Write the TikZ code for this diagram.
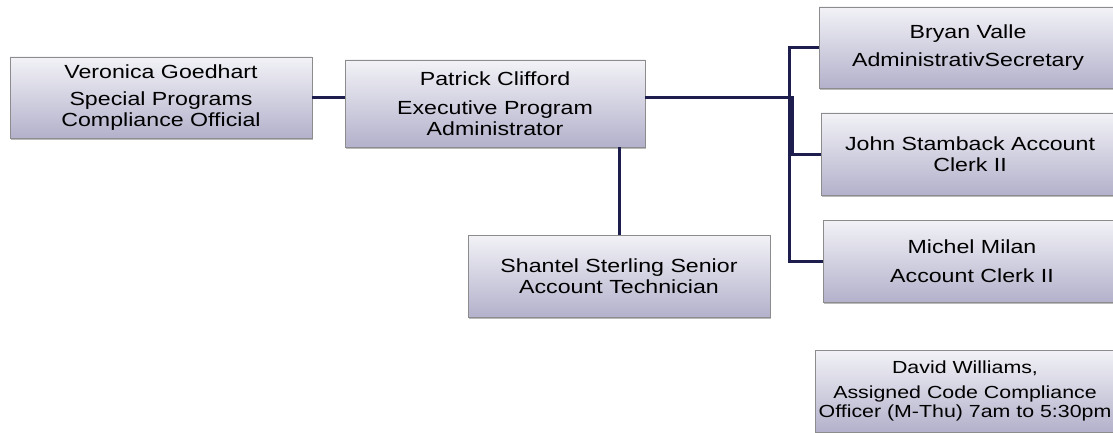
\documentclass[tikz,border=0pt]{standalone}
\usepackage{fontspec}
\setmainfont{Liberation Sans}[FakeStretch=1.22]
\usetikzlibrary{shadows}
\definecolor{boxtop}{HTML}{F2F2F7}
\definecolor{boxbot}{HTML}{B3B1CB}
\definecolor{boxline}{HTML}{8C8C8C}
\definecolor{conn}{HTML}{1E1E4E}
\tikzset{
  person/.style={rectangle, draw=boxline, line width=0.8pt, top color=boxtop, bottom color=boxbot,
    minimum width=#1, minimum height=82pt, inner sep=0pt, align=center,
    font=\fontsize{19pt}{21pt}\selectfont,
    drop shadow={shadow xshift=1.2pt, shadow yshift=-1.6pt, fill=black!45, opacity=0.6}},
  person/.default=300pt,
  link/.style={draw=conn, line width=3pt}
}
\begin{document}
\begin{tikzpicture}[x=1pt,y=-1pt]
\useasboundingbox (0,0) rectangle (1113,433);
\clip (0,0) rectangle (1113,433);
\node[person=302pt, minimum height=81pt] (V) at (161,97.5) {Veronica Goedhart\\[6pt]Special Programs\\Compliance Official};
\node[person=300pt, minimum height=87pt] (P) at (495,103.5) {Patrick Clifford\\[8pt]Executive Program\\Administrator};
\node[person=302pt] (S) at (619,276) {Shantel Sterling Senior\\Account Technician};
\node[person=298pt, minimum height=81pt] (B) at (968,47.5) {Bryan Valle\\[7pt]AdministrativSecretary};
\node[person=298pt] (J) at (970,154) {John Stamback Account\\Clerk II};
\node[person=298pt] (M) at (972,261) {Michel Milan\\[8pt]Account Clerk II};
\node[person=300pt, font=\fontsize{17.5pt}{19pt}\selectfont] (D) at (965,391) {David Williams,\\[6pt]Assigned Code Compliance\\Officer (M-Thu) 7am to 5:30pm};
\coordinate (Pout) at (P.east |- V.east);
\coordinate (busA) at (792,97.5);
\coordinate (busB) at (789,48);
\path[link] (V.east) -- (V.east -| P.west);
\path[link] (Pout) -- (busA) |- (J.west);
\path[link] (B.west) -| (busB) |- (M.west);
\path[link] (P.south -| S.north) -- (S.north);
\end{tikzpicture}
\end{document}
